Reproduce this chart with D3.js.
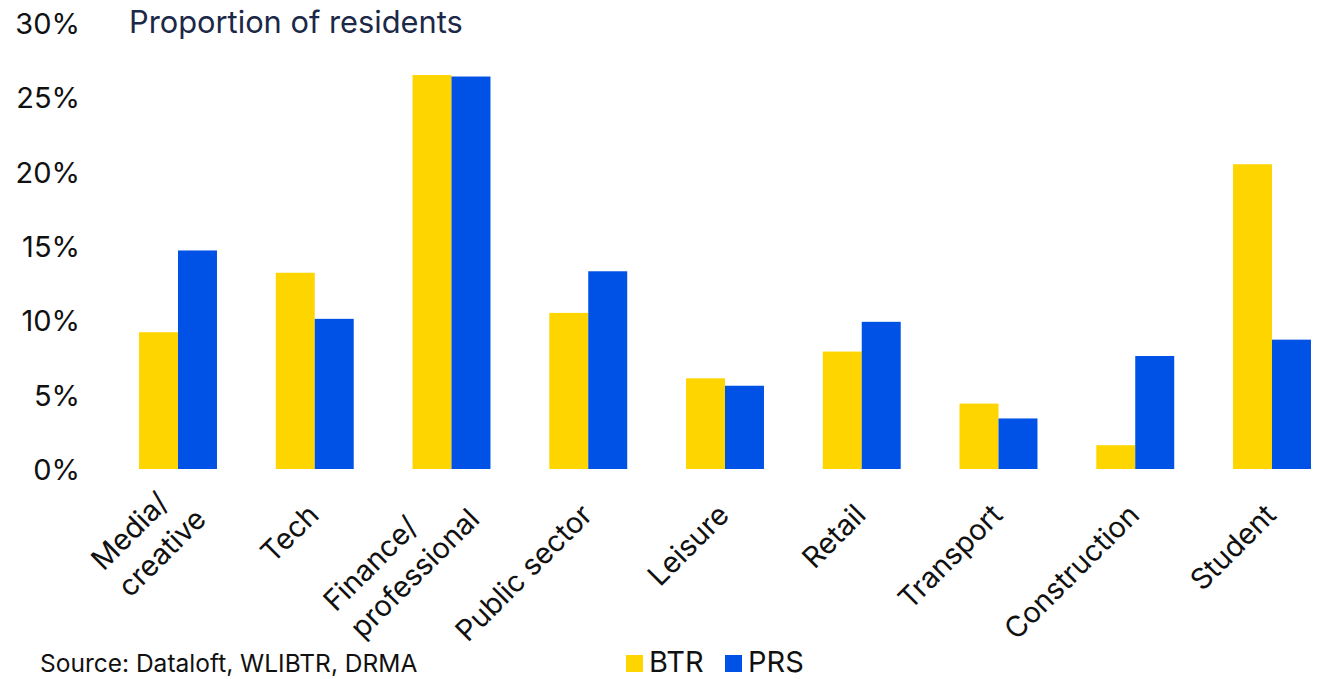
<!DOCTYPE html>
<meta charset="utf-8">
<script src="https://cdn.jsdelivr.net/npm/d3@7"></script>
<style>
  body { margin: 0; background: #fff; }
  text { font-family: Inter, "Noto Sans", sans-serif; fill: #111; }
</style>
<body>
<script>
  // chart data
  var categories = ["Media/\ncreative", "Tech", "Finance/\nprofessional", "Public sector", "Leisure",
    "Retail", "Transport", "Construction", "Student"];
  var seriesNames = ["BTR", "PRS"];
  var btrValues = [9.2, 13.2, 26.5, 10.5, 6.1, 7.9, 4.4, 1.6, 20.5];
  var prsValues = [14.7, 10.1, 26.4, 13.3, 5.6, 9.9, 3.4, 7.6, 8.7];
  var yTicks = [0, 5, 10, 15, 20, 25, 30];
  var colors = ["#FFD500", "#0051E5"];

  var W = 1319, H = 679;
  var svg = d3.select("body").append("svg")
    .attr("width", W)
    .attr("height", H);

  var step = 136.75;
  var x = d3.scaleBand()
    .domain(categories)
    .range([178 - step / 2, 1272 + step / 2])
    .paddingInner(0.43)
    .paddingOuter(0.215);
  var xs = d3.scaleBand()
    .domain(seriesNames)
    .range([0, x.bandwidth()]);
  var y = d3.scaleLinear()
    .domain([0, 30])
    .range([469, 23]);

  // y axis labels
  var yAxis = d3.axisLeft(y).tickValues(yTicks).tickSize(0).tickPadding(0)
    .tickFormat(function (d) { return d + "%"; });
  var gy = svg.append("g").attr("transform", "translate(80,0)").call(yAxis);
  gy.select(".domain").remove();
  gy.selectAll("text")
    .attr("font-size", 29)
    .attr("dy", "0.36em")
    .style("font-family", "Inter, sans-serif")
    .attr("fill", "#111");

  // title
  svg.append("text")
    .attr("x", 129)
    .attr("y", 33)
    .attr("font-size", 30.8)
    .style("fill", "#1c2847")
    .text("Proportion of residents");

  // bars
  var rows = categories.map(function (c, i) {
    return { cat: c, vals: [btrValues[i], prsValues[i]] };
  });
  var groups = svg.selectAll(".grp")
    .data(rows)
    .enter().append("g")
    .attr("class", "grp")
    .attr("transform", function (d) { return "translate(" + x(d.cat) + ",0)"; });
  groups.selectAll("rect")
    .data(function (d) { return d.vals.map(function (v, j) { return { s: seriesNames[j], v: v, j: j }; }); })
    .enter().append("rect")
    .attr("x", function (d) { return xs(d.s); })
    .attr("width", xs.bandwidth())
    .attr("y", function (d) { return y(d.v); })
    .attr("height", function (d) { return y(0) - y(d.v); })
    .attr("fill", function (d) { return colors[d.j]; });

  // category labels, rotated -45
  var fs = 29, lh = 38;
  categories.forEach(function (c) {
    var cx = x(c) + x.bandwidth() / 2;
    var lines = c.split("\n");
    var g = svg.append("g")
      .attr("transform", "translate(" + (cx - 9) + ",502) rotate(-45)");
    var t = g.append("text").attr("font-size", fs);
    lines.forEach(function (l) {
      t.append("tspan").text(l);
    });
    var spans = t.selectAll("tspan").nodes();
    var maxW = d3.max(spans, function (s) { return s.getComputedTextLength(); });
    var n = lines.length;
    var shift = n > 1 ? 14 : 0;
    spans.forEach(function (s, i) {
      d3.select(s)
        .attr("x", -maxW + shift)
        .attr("y", n > 1 ? (i - 1) * lh + 20 : 0)
        .attr("dy", "0.72em");
    });
  });

  // source
  svg.append("text")
    .attr("x", 40)
    .attr("y", 672)
    .attr("font-size", 24.5)
    .text("Source: Dataloft, WLIBTR, DRMA");

  // legend
  var lx = [626, 725];
  seriesNames.forEach(function (s, i) {
    svg.append("rect")
      .attr("x", lx[i]).attr("y", 655)
      .attr("width", 17).attr("height", 17)
      .attr("fill", colors[i]);
    svg.append("text")
      .attr("x", lx[i] + 23)
      .attr("y", 672)
      .attr("font-size", 29)
      .text(s);
  });
</script>
</body>
